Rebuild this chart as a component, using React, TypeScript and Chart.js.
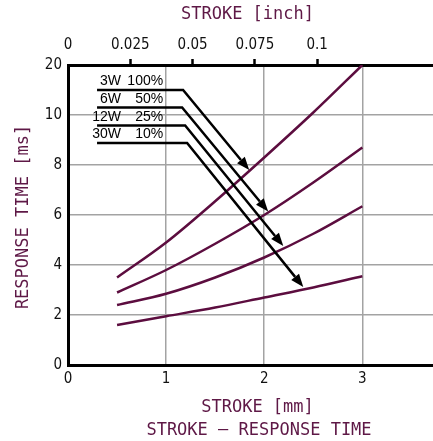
import React, { useEffect, useRef } from "react";
import { Chart, registerables } from "chart.js";

Chart.register(...registerables);

// ---- data ----
const STROKE_MM = [0.5, 1, 1.5, 2, 2.5, 3];
const RESP_3W = [3.5, 4.9, 6.55, 8.3, 10.1, 12.0];
const RESP_6W = [2.9, 3.8, 4.85, 6.0, 7.3, 8.7];
const RESP_12W = [2.4, 2.85, 3.5, 4.3, 5.25, 6.35];
const RESP_30W = [1.6, 1.95, 2.3, 2.7, 3.1, 3.55];

const Y_TICKS = [0, 2, 4, 6, 8, 10, 12];
const Y_TICK_LABELS = ["0", "2", "4", "6", "8", "10", "20"];
const X_TICKS = [0, 1, 2, 3];
const INCH_TICKS = [0, 0.025, 0.05, 0.075, 0.1];

const WATTS = ["3W", "6W", "12W", "30W"];
const DUTY = ["100%", "50%", "25%", "10%"];

// annotation geometry in data units (mm, ms-scale)
const LEAD_START_X = 0.296;
const LEAD_Y = [11.0, 10.3, 9.58, 8.88];
const LEAD_CORNER_X = [1.173, 1.163, 1.194, 1.214];
const LEAD_TIP_X = [1.847, 2.04, 2.194, 2.398];
const LEAD_TIP_Y = [7.8, 6.14, 4.76, 3.12];
const LABEL_W_X = 0.54;
const LABEL_PCT_X = 0.97;
const LABEL_Y = [11.36, 10.64, 9.9, 9.22];

const X_MAX = 3.72;
const CURVE = "#5c0d3f";
const TITLE = "#5e1846";
const GRID = "#a3a3a3";
const TICK_FONT = { family: "'Liberation Sans Narrow', 'DejaVu Sans Condensed', sans-serif", size: 15 };

const overlay = {
  id: "overlay",
  afterDraw(chart: any) {
    const ctx = chart.ctx;
    const xs = chart.scales.x;
    const ys = chart.scales.y;
    ctx.save();
    // leaders
    ctx.strokeStyle = "#000";
    ctx.fillStyle = "#000";
    ctx.lineWidth = 2.5;
    ctx.lineJoin = "miter";
    for (let i = 0; i < WATTS.length; i++) {
      const x0 = xs.getPixelForValue(LEAD_START_X);
      const y0 = ys.getPixelForValue(LEAD_Y[i]);
      const xc = xs.getPixelForValue(LEAD_CORNER_X[i]);
      const xt = xs.getPixelForValue(LEAD_TIP_X[i]);
      const yt = ys.getPixelForValue(LEAD_TIP_Y[i]);
      const ang = Math.atan2(yt - y0, xt - xc);
      const hl = 13, hw = 5;
      const bx = xt - hl * Math.cos(ang);
      const by = yt - hl * Math.sin(ang);
      ctx.beginPath();
      ctx.moveTo(x0, y0);
      ctx.lineTo(xc, y0);
      ctx.lineTo(bx, by);
      ctx.stroke();
      ctx.beginPath();
      ctx.moveTo(xt, yt);
      ctx.lineTo(bx + hw * Math.sin(ang), by - hw * Math.cos(ang));
      ctx.lineTo(bx - hw * Math.sin(ang), by + hw * Math.cos(ang));
      ctx.closePath();
      ctx.fill();
      // labels
      ctx.font = "14px 'Liberation Sans', Arial, sans-serif";
      ctx.textAlign = "right";
      ctx.textBaseline = "middle";
      const ly = ys.getPixelForValue(LABEL_Y[i]);
      ctx.fillText(WATTS[i], xs.getPixelForValue(LABEL_W_X), ly);
      ctx.fillText(DUTY[i], xs.getPixelForValue(LABEL_PCT_X), ly);
    }
    // titles
    ctx.fillStyle = TITLE;
    ctx.font = "17px 'DejaVu Sans Mono', monospace";
    ctx.textAlign = "center";
    ctx.textBaseline = "middle";
    ctx.fillText("STROKE [inch]", 247.5, 15);
    ctx.fillText("STROKE [mm]", 257.5, 407.5);
    ctx.fillText("STROKE – RESPONSE TIME", 259, 430.5);
    ctx.translate(24, 217);
    ctx.rotate(-Math.PI / 2);
    ctx.fillText("RESPONSE TIME [ms]", 0, 0);
    ctx.restore();
  },
};

export default function App() {
  const ref = useRef<HTMLCanvasElement | null>(null);
  useEffect(() => {
    document.body.style.margin = "0";
    const mk = (data: number[]) => ({
      data: STROKE_MM.map((x, i) => ({ x, y: data[i] })),
      borderColor: CURVE,
      borderWidth: 2.5,
      pointRadius: 0,
      fill: false,
      cubicInterpolationMode: "monotone" as const,
      tension: 0.4,
    });
    const chart = new Chart(ref.current!, {
      type: "line",
      data: {
        datasets: [mk(RESP_3W), mk(RESP_6W), mk(RESP_12W), mk(RESP_30W)],
      },
      options: {
        animation: false,
        responsive: false,
        devicePixelRatio: 1,
        layout: { padding: 0 },
        plugins: { legend: { display: false }, tooltip: { enabled: false }, title: { display: false } },
        scales: {
          x: {
            type: "linear",
            position: "bottom",
            min: 0,
            max: X_MAX,
            afterBuildTicks: (s: any) => {
              s.ticks = X_TICKS.map((v) => ({ value: v }));
            },
            afterFit: (s: any) => {
              s.height = 76;
            },
            grid: {
              color: (c: any) => (c.tick && c.tick.value === 0 ? "rgba(0,0,0,0)" : GRID),
              lineWidth: 1.5,
              drawTicks: false,
            },
            border: { color: "#000", width: 3 },
            ticks: {
              font: TICK_FONT,
              color: "#111",
              padding: 5,
              maxRotation: 0,
              callback: (v: any) => String(v),
            },
          },
          x2: {
            type: "linear",
            position: "top",
            min: 0,
            max: X_MAX / 25.4,
            afterBuildTicks: (s: any) => {
              s.ticks = INCH_TICKS.map((v) => ({ value: v }));
            },
            afterFit: (s: any) => {
              s.height = 65;
            },
            grid: {
              drawOnChartArea: false,
              drawTicks: true,
              tickLength: 6,
              tickWidth: 2.5,
              tickColor: (c: any) => (c.tick && c.tick.value === 0 ? "rgba(0,0,0,0)" : "#000"),
            },
            border: { color: "#000", width: 3 },
            ticks: {
              font: TICK_FONT,
              color: "#111",
              padding: 5,
              maxRotation: 0,
              callback: (v: any) => String(Math.round(v * 1000) / 1000),
            },
          },
          y: {
            type: "linear",
            min: 0,
            max: 12,
            afterBuildTicks: (s: any) => {
              s.ticks = Y_TICKS.map((v) => ({ value: v }));
            },
            afterFit: (s: any) => {
              s.width = 68;
            },
            grid: {
              color: (c: any) =>
                c.tick && (c.tick.value === 0 || c.tick.value === 12) ? "rgba(0,0,0,0)" : GRID,
              lineWidth: 1.5,
              drawTicks: false,
            },
            border: { color: "#000", width: 3 },
            ticks: {
              font: TICK_FONT,
              color: "#111",
              padding: 6,
              callback: (v: any) => {
                const i = Y_TICKS.indexOf(Number(v));
                return i >= 0 ? Y_TICK_LABELS[i] : "";
              },
            },
          },
        },
      },
      plugins: [overlay],
    });
    return () => chart.destroy();
  }, []);
  return (
    <div style={{ width: 433, height: 441 }}>
      <canvas ref={ref} width={433} height={441} style={{ display: "block" }} />
    </div>
  );
}
